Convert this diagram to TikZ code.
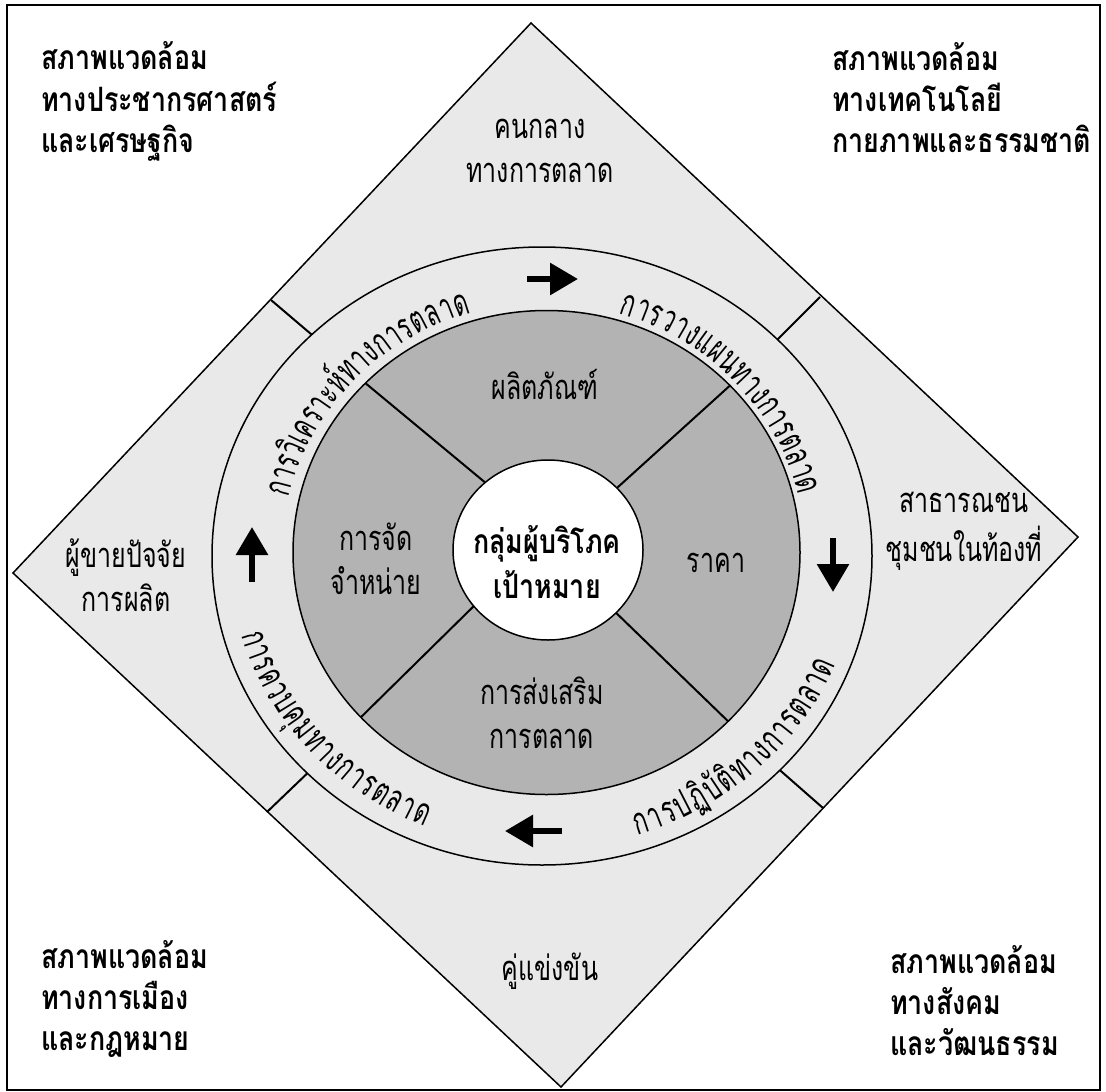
\documentclass[tikz,border=0pt]{standalone}
\usepackage{fontspec}
\usepackage{graphicx}
\newfontfamily\thai[Script=Thai]{Loma}
\usetikzlibrary{arrows.meta}
\definecolor{ringbg}{HTML}{E9E9E9}
\definecolor{midgray}{HTML}{B3B3B3}

\makeatletter
\let\stripptx\strip@pt
\makeatother

\newlength\rtw
\newlength\rtsum
\newcommand\ringfont{\fontsize{\rsz pt}{\rsz pt}\thai}
% tall (narrow-looking) text blocks, like the reference's Thai face
\newcommand\tc[1]{\scalebox{1}[1.38]{\begin{tabular}{@{}c@{}}#1\end{tabular}}}
\newcommand\tbl[1]{\scalebox{1}[1.25]{\begin{tabular}{@{}l@{}}#1\end{tabular}}}
\newcommand\tbc[1]{\scalebox{1}[1.25]{\begin{tabular}{@{}c@{}}#1\end{tabular}}}

\tikzset{
  outerframe/.style={draw=black, line width=2pt},
  outl/.style={draw=black, line width=1.5pt},
  divider/.style={draw=black, line width=2pt},
  lbl/.style={font=\fontsize{\regsz pt}{31.9pt}\thai, inner sep=0pt},
  cornerlbl/.style={font=\fontsize{\bsz pt}{32.8pt}\thai\bfseries, inner sep=0pt, anchor=west},
  hub/.style={font=\fontsize{\bsz pt}{36pt}\thai\bfseries, inner sep=0pt},
  ringch/.style={font=\ringfont, inner sep=0pt, anchor=base},
  flowarrow/.style={line width=6pt, -{Triangle[length=28pt,width=31pt]}},
}

% measure the clusters of a ring text outside the picture
% #1 name, #2 clusters
\newcommand\ringprep[2]{%
  \global\rtsum=0pt
  \foreach \cl [count=\ci] in {#2}{%
    \settowidth\rtw{\ringfont\cl}%
    \ifdim\rtw<0.5pt \global\rtw=10pt \fi
    \expandafter\xdef\csname rtw@#1@\ci\endcsname{\stripptx\rtw}%
    \global\advance\rtsum by \rtw
  }%
  \expandafter\xdef\csname rts@#1\endcsname{\stripptx\rtsum}%
}
% #1 name, #2 centre angle, #3 span, #4 direction, #5 rx, #6 ry, #7 rotation offset,
% #8 clusters, #9 tightest radius (for horizontal squeeze)
\newcommand\ringtext[9]{%
  \pgfmathsetmacro\rtstart{#2-(#4)*(#3)/2}%
  \xdef\rtcur{\rtstart}%
  \pgfmathsetmacro\rths{min(1,0.95*(#3)*pi/180*(#9)/\csname rts@#1\endcsname)}%
  \foreach \cl [count=\ci] in {#8}{%
    \pgfmathsetmacro\rtda{(#3)*\csname rtw@#1@\ci\endcsname/\csname rts@#1\endcsname}%
    \pgfmathsetmacro\rtmid{\rtcur+(#4)*\rtda/2}%
    \pgfmathsetmacro\rtrot{\rtmid+(#7)}%
    \path (C) ++(\rtmid:#5pt and #6pt) node[ringch,rotate=\rtrot] (#1\ci) {\scalebox{\rths}[1.45]{\cl}};
    \pgfmathsetmacro\rtnext{\rtcur+(#4)*\rtda}%
    \xdef\rtcur{\rtnext}%
  }%
}

\begin{document}
\settowidth\rtw{\fontsize{10pt}{12pt}\thai ทางการตลาด}%
\ifdim\rtw<1pt \rtw=55pt \fi
\pgfmathsetmacro\regsz{1470/\rtw}%
\settowidth\rtw{\fontsize{10pt}{12pt}\thai\bfseries ทางประชากรศาสตร์}%
\ifdim\rtw<1pt \rtw=90pt \fi
\pgfmathsetmacro\bsz{2360/\rtw}%
\pgfmathsetmacro\rsz{\regsz*1.03}%
\ringprep{ra}{ก,า,ร,วิ,เ,ค,ร,า,ะ,ห์,ท,า,ง,ก,า,ร,ต,ล,า,ด}%
\ringprep{rb}{ก,า,ร,ว,า,ง,แ,ผ,น,ท,า,ง,ก,า,ร,ต,ล,า,ด}%
\ringprep{rc}{ก,า,ร,ป,ฏิ,บั,ติ,ท,า,ง,ก,า,ร,ต,ล,า,ด}%
\ringprep{rd}{ก,า,ร,ค,ว,บ,คุ,ม,ท,า,ง,ก,า,ร,ต,ล,า,ด}%
\begin{tikzpicture}[x=1pt,y=-1pt]
\useasboundingbox (0,0) rectangle (1106,1092);
\draw[outerframe] (6.5,5) rectangle (1099.5,1090);

% centres
\coordinate (C) at (544,554);
\coordinate (CO) at (542,556);
\coordinate (CG) at (546.5,552.5);
\coordinate (CW) at (548,550);

% diamond
\coordinate (dT) at (531,23);
\coordinate (dR) at (1078,537);
\coordinate (dB) at (561,1087);
\coordinate (dL) at (13,573);
\draw[outl, fill=ringbg] (dT) -- (dR) -- (dB) -- (dL) -- cycle;

% outer dividers
\coordinate (oTLa) at (271,300); \coordinate (oTLb) at (318,340);
\coordinate (oTRa) at (820,297); \coordinate (oTRb) at (772,345);
\coordinate (oBLa) at (267,812); \coordinate (oBLb) at (316,765);
\coordinate (oBRa) at (823,808); \coordinate (oBRb) at (774,765);
\draw[divider] (oTLa) -- (oTLb);
\draw[divider] (oTRa) -- (oTRb);
\draw[divider] (oBLa) -- (oBLb);
\draw[divider] (oBRa) -- (oBRb);

% rings
\draw[outl, fill=ringbg] (CO) ellipse [x radius=330pt, y radius=309pt];
\draw[outl, fill=midgray] (CG) ellipse [x radius=253.5pt, y radius=242pt];

% inner dividers
\coordinate (iTLa) at (358,377); \coordinate (iTLb) at (493,489);
\coordinate (iTRa) at (735,381); \coordinate (iTRb) at (607,497);
\coordinate (iBLa) at (353,725); \coordinate (iBLb) at (481,599);
\coordinate (iBRa) at (734,727); \coordinate (iBRb) at (609,606);
\begin{scope}
  \clip (CG) ellipse [x radius=253.5pt, y radius=242pt];
  \draw[divider] (iTLa) -- (iTLb);
  \draw[divider] (iTRa) -- (iTRb);
  \draw[divider] (iBLa) -- (iBLb);
  \draw[divider] (iBRa) -- (iBRb);
\end{scope}
\draw[outl, fill=white] (CW) ellipse [x radius=95pt, y radius=90pt];

% arrows in the ring
\coordinate (aTs) at (527,279); \coordinate (aTe) at (578,279);
\coordinate (aRs) at (833,538); \coordinate (aRe) at (833,592);
\coordinate (aBs) at (562,831); \coordinate (aBe) at (505,831);
\coordinate (aLs) at (252,582); \coordinate (aLe) at (252,527);
\draw[flowarrow] (aTs) -- (aTe);
\draw[flowarrow] (aRs) -- (aRe);
\draw[flowarrow] (aBs) -- (aBe);
\draw[flowarrow] (aLs) -- (aLe);

% curved ring texts
\ringtext{ra}{136.5}{61}{-1}{262}{251}{-90}{ก,า,ร,วิ,เ,ค,ร,า,ะ,ห์,ท,า,ง,ก,า,ร,ต,ล,า,ด}{257}
\ringtext{rb}{43.5}{60}{-1}{262}{251}{-90}{ก,า,ร,ว,า,ง,แ,ผ,น,ท,า,ง,ก,า,ร,ต,ล,า,ด}{257}
\ringtext{rc}{312.5}{51}{1}{315}{294}{90}{ก,า,ร,ป,ฏิ,บั,ติ,ท,า,ง,ก,า,ร,ต,ล,า,ด}{285}
\ringtext{rd}{222}{52}{1}{315}{294}{90}{ก,า,ร,ค,ว,บ,คุ,ม,ท,า,ง,ก,า,ร,ต,ล,า,ด}{285}

% labels
\node[lbl] (middlemen) at (540,152) {\tc{คนกลาง\\ทางการตลาด}};
\node[lbl] (publics) at (964,528) {\tc{สาธารณชน\\ชุมชนในท้องที่}};
\node[lbl] (suppliers) at (126,581) {\tc{ผู้ขายปัจจัย\\การผลิต}};
\node[lbl] (competitors) at (550,972) {\tc{คู่แข่งขัน}};
\node[lbl] (product) at (545,391) {\tc{ผลิตภัณฑ์}};
\node[lbl] (place) at (376,564) {\tc{การจัด\\จำหน่าย}};
\node[lbl] (price) at (716,564) {\tc{ราคา}};
\node[lbl] (promotion) at (542,718) {\tc{การส่งเสริม\\การตลาด}};
\node[hub] (target) at (547,567) {\tbc{กลุ่มผู้บริโภค\\เป้าหมาย}};

\node[cornerlbl] (envTL) at (41,103) {\tbl{สภาพแวดล้อม\\ทางประชากรศาสตร์\\และเศรษฐกิจ}};
\node[cornerlbl] (envTR) at (832,103) {\tbl{สภาพแวดล้อม\\ทางเทคโนโลยี\\กายภาพและธรรมชาติ}};
\node[cornerlbl] (envBL) at (41,1001) {\tbl{สภาพแวดล้อม\\ทางการเมือง\\และกฎหมาย}};
\node[cornerlbl] (envBR) at (890,1006) {\tbl{สภาพแวดล้อม\\ทางสังคม\\และวัฒนธรรม}};
\end{tikzpicture}
\end{document}
